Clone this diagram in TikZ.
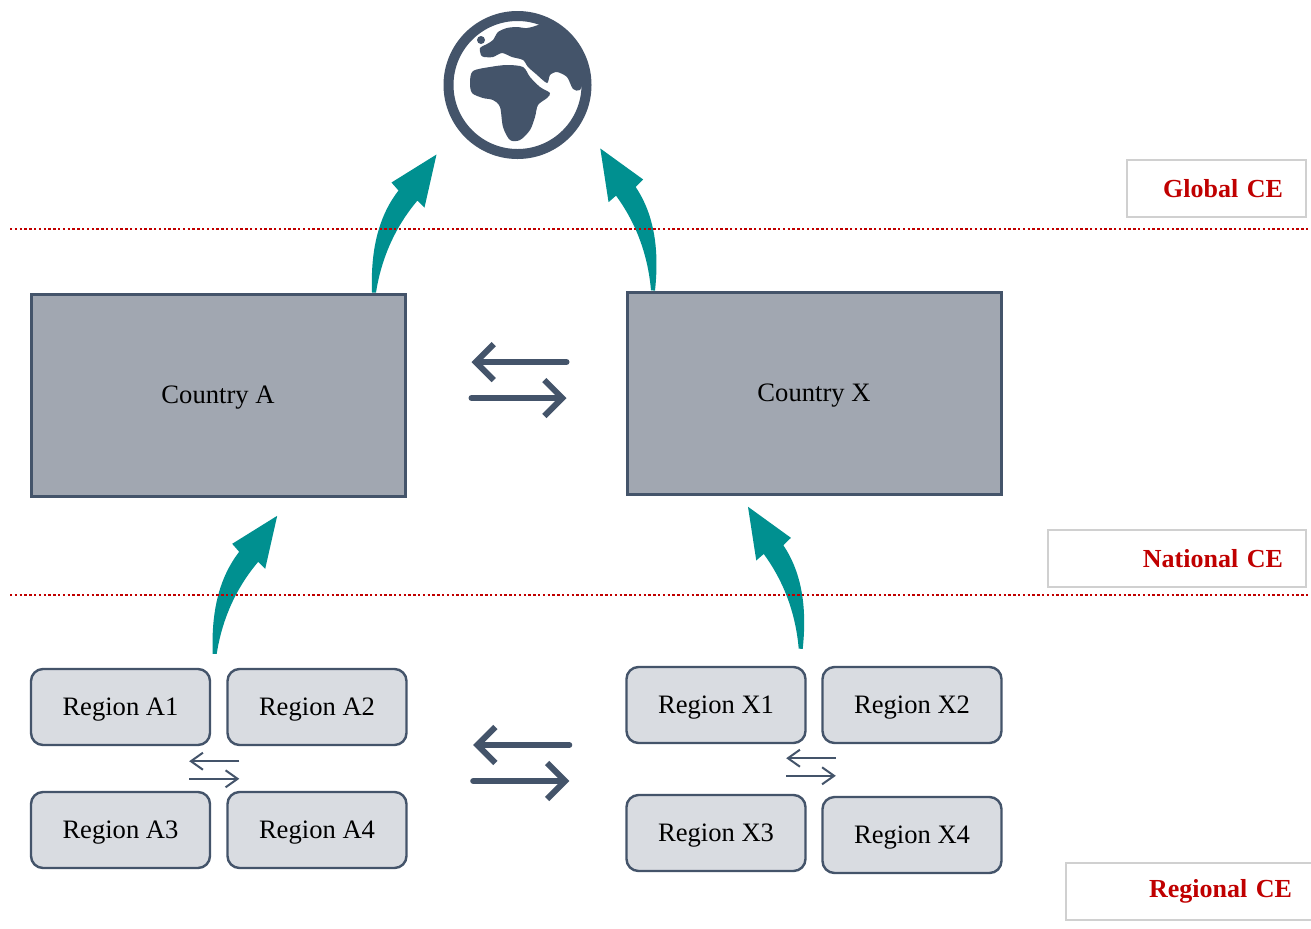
\documentclass[tikz,border=0pt]{standalone}
\usepackage{fontspec}
\setmainfont{Liberation Serif}
\usetikzlibrary{calc, arrows.meta, shapes}

\definecolor{slate}{HTML}{44546A}
\definecolor{ctyfill}{HTML}{A1A7B1}
\definecolor{regfill}{HTML}{D9DCE1}
\definecolor{tealarr}{HTML}{009090}
\definecolor{cered}{HTML}{C00000}
\definecolor{lblline}{HTML}{D0D0D0}

\tikzset{
    tealup/.pic={
        \fill[tealarr] (-1.5,0) .. controls (-3,-40) and (4,-75) .. (25,-102)
            -- (18,-110) -- (63,-138) -- (51,-85) -- (44,-92)
            .. controls (22,-66) and (8,-35) .. (2.5,0) -- cycle;
    }
}

\begin{document}
\begin{tikzpicture}[x=0.5pt,y=-0.5pt,
    country/.style={draw=slate, line width=1.5pt, fill=ctyfill, minimum width=187pt, minimum height=101pt, text depth=0pt, font=\fontsize{13.3}{16}\selectfont},
    region/.style={draw=slate, line width=1.2pt, fill=regfill, rounded corners=6pt, minimum width=89.5pt, minimum height=38pt, text depth=0pt, font=\fontsize{13.3}{16}\selectfont},
    celabel/.style={draw=lblline, line width=0.6pt, fill=white, minimum height=28.5pt, inner xsep=11.5pt, align=right, text=cered, font=\fontsize{13}{16}\selectfont\bfseries},
    globe/.style={circle, draw=slate, line width=5pt, minimum size=69pt, inner sep=0pt},
    bigswap/.style={draw=slate, line width=3pt, line cap=round, -{Straight Barb[length=9pt,width=18pt]}},
    smallswap/.style={draw=slate, line width=1pt, -{Straight Barb[length=6pt,width=8.5pt]}},
    sepline/.style={draw=cered, line width=1pt, dash pattern=on 1.2pt off 1.2pt}]

            \useasboundingbox (0,0) rectangle (1311,928);
            \fill[white] (0,0) rectangle (1311,928);

            \node[globe] (globe) at (517.5,85) {};
            \begin{scope}
                \clip (517.5,85) circle[radius=33pt];
                \fill[slate] plot[smooth cycle] coordinates {(470,82) (473,71) (490,67) (507,65) (523,67) (530,77) (540,87) (550,93) (547,98) (538,105) (535,117) (530,130) (520,140) (510,140) (503,127) (500,107) (493,100) (483,98) (472,93)};
                \fill[slate] plot[smooth cycle, tension=0.45] coordinates {(481,55) (480,48) (487,44) (493,40) (498,32) (507,28) (517,27) (527,28) (540,24) (560,10) (610,40) (610,90) (587,78) (580,90) (573,89) (567,77) (557,72) (550,75) (547,83) (536,74) (528,67) (523,60) (512,57) (502,53) (493,57) (484,57)};
                \fill[slate] (481,40) circle[radius=2pt];
            \end{scope}

            \node[celabel, text width=66.5pt] (glob) at (1216.5,188.5) {Global CE};
            \node[celabel, text width=106pt] (natl) at (1177,558.5) {National CE};
            \node[celabel, text width=101.5pt] (regl) at (1190.5,891.5) {Regional CE};

            \node[country] (ctyA) at (218,395) {Country A};
            \node[country] (ctyX) at (814,393) {Country X};

            \node[region] (A1) at (120.5,707) {Region A1};
            \node[region] (A2) at (317,707) {Region A2};
            \node[region] (A3) at (120.5,830) {Region A3};
            \node[region] (A4) at (317,830) {Region A4};
            \node[region] (X1) at (716,705) {Region X1};
            \node[region] (X2) at (912,705) {Region X2};
            \node[region] (X3) at (716,833) {Region X3};
            \node[region] (X4) at (912,835) {Region X4};

            \pic at ($(ctyA.north east)+(-33,0)$) {tealup};
            \pic[rotate=-4, xscale=-1] at ($(ctyX.north west)+(28,0)$) {tealup};
            \pic at ($(A1.north east)+(3,-14)$) {tealup};
            \pic[rotate=-4, xscale=-1] at ($(X1.north east)+(-5.5,-17)$) {tealup};

            \draw[sepline] (10,229) -- (1308,229);
            \draw[sepline] (10,595) -- (1308,595);

            \draw[bigswap] ($(ctyX.west)+(-59,-31)$) -- ($(ctyA.east)+(65,-33)$);
            \draw[bigswap] ($(ctyA.east)+(65,3)$) -- ($(ctyX.west)+(-59,5)$);
            \draw[bigswap] ($(X1.west)+(-56,40)$) -- ($(A2.east)+(65.5,38)$);
            \draw[bigswap] ($(A4.east)+(65.5,-49)$) -- ($(X3.west)+(-56,-52)$);

            \draw[smallswap] ($(A2.south west)+(13,15)$) -- ($(A1.south east)+(-22,15)$);
            \draw[smallswap] ($(A3.north east)+(-22,-12)$) -- ($(A4.north west)+(13,-12)$);
            \draw[smallswap] ($(X2.south west)+(14.5,14)$) -- ($(X1.south east)+(-20.5,14)$);
            \draw[smallswap] ($(X3.north east)+(-20.5,-18)$) -- ($(X4.north west)+(14.5,-20)$);
        \end{tikzpicture}
\end{document}
